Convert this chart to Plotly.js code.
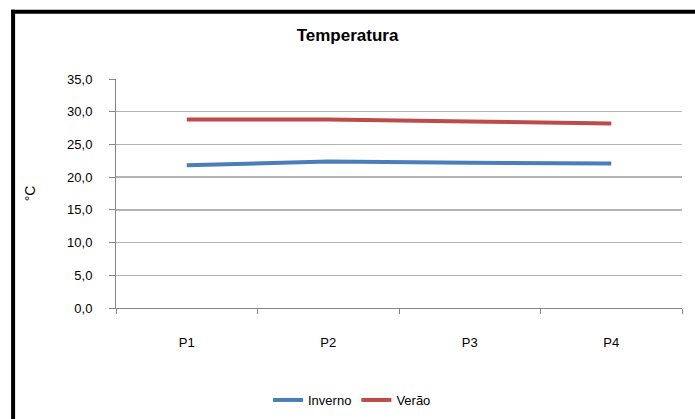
<!DOCTYPE html>
<html>
<head>
<meta charset="utf-8">
<script src="https://cdn.plot.ly/plotly-3.0.1.min.js"></script>
<style>html,body{margin:0;padding:0;background:#fff;}#chart{width:695px;height:419px;}</style>
</head>
<body>
<div id="chart"></div>
<script>
var categories = ["P1", "P2", "P3", "P4"];
var inverno = [21.8, 22.4, 22.2, 22.1];
var verao = [28.8, 28.8, 28.5, 28.2];
var yTicks = [0, 5, 10, 15, 20, 25, 30, 35];

var W = 695, H = 419;
var L = 116, R = 12.5, T = 79.3, B = 110.7;
var pw = W - L - R, ph = H - T - B;
function px2x(p) { return (p - L) / pw; }
function py2y(p) { return (H - B - p) / ph; }

var font = "Liberation Sans, Arial, sans-serif";
var traces = [
  {x: categories, y: inverno, name: "Inverno", type: "scatter", mode: "lines",
   line: {color: "#4a7ebb", width: 4}},
  {x: categories, y: verao, name: "Verão", type: "scatter", mode: "lines",
   line: {color: "#be4b48", width: 4}}
];
var layout = {
  width: W, height: H,
  margin: {l: L, r: R, t: T, b: B},
  paper_bgcolor: "#ffffff", plot_bgcolor: "#ffffff",
  separators: ",.",
  font: {family: font, size: 12, color: "#000"},
  title: {text: "Temperatura", font: {family: font, size: 17, color: "#000", weight: "bold"},
          x: 0.5, xanchor: "center", y: 1 - 35 / H, yanchor: "middle"},
  xaxis: {
    type: "category", tickson: "boundaries", ticks: "outside", ticklen: 5, tickcolor: "#868686",
    showline: true, linecolor: "#868686", linewidth: 1, showgrid: false, zeroline: false,
    ticklabelstandoff: 22,
    tickfont: {family: font, size: 13, color: "#000"}, range: [-0.5, 3.5]
  },
  yaxis: {
    range: [0, 35], tickvals: yTicks, tickformat: ".1f", ticks: "outside", ticklen: 6,
    tickcolor: "#868686", showline: true, linecolor: "#868686", linewidth: 1,
    showgrid: true, gridcolor: "#b3b3b3", gridwidth: 1.5, zeroline: false,
    ticklabelstandoff: 14,
    tickfont: {family: font, size: 13, color: "#000"},
    title: {text: "°C", font: {family: font, size: 14, color: "#000"}, standoff: 28}
  },
  showlegend: true,
  legend: {orientation: "h", xref: "container", yref: "container",
           x: 352 / W, xanchor: "center", y: 1 - 400 / H, yanchor: "middle",
           font: {family: font, size: 13, color: "#000"}, bgcolor: "rgba(0,0,0,0)"},
  shapes: [
    {type: "line", xref: "paper", yref: "paper", x0: px2x(13), x1: px2x(13), y0: py2y(10), y1: py2y(430),
     line: {color: "#000", width: 4}, layer: "above"},
    {type: "line", xref: "paper", yref: "paper", x0: px2x(11), x1: px2x(700), y0: py2y(12), y1: py2y(12),
     line: {color: "#000", width: 4}, layer: "above"}
  ]
};
Plotly.newPlot("chart", traces, layout, {displayModeBar: false, staticPlot: true});
</script>
</body>
</html>
